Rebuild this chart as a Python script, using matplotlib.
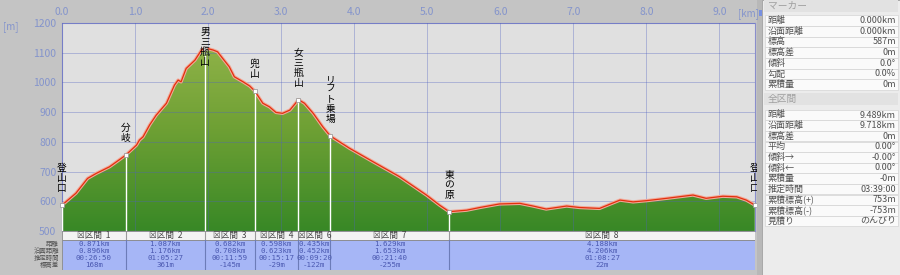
import numpy as np
import matplotlib
matplotlib.use("Agg")
import matplotlib.pyplot as plt
from matplotlib.colors import LinearSegmentedColormap
from matplotlib.patches import Polygon, Rectangle
from matplotlib.transforms import Bbox, TransformedBbox

plt.rcParams['font.family'] = ['Noto Sans CJK JP', 'DejaVu Sans']

# 断面データ (距離 km, 標高 m)
dist_km = [0.00, 0.19, 0.35, 0.47, 0.65, 0.871, 1.02, 1.06, 1.11, 1.20, 1.29, 1.43,
           1.54, 1.59, 1.63, 1.70, 1.82, 1.91, 1.958, 2.07, 2.13, 2.20, 2.29, 2.36,
           2.48, 2.57, 2.640, 2.75, 2.84, 2.93, 3.02, 3.12, 3.238, 3.32, 3.44, 3.57,
           3.673, 3.94, 4.26, 4.62, 4.99, 5.17, 5.302, 5.54, 5.72, 5.99, 6.27, 6.45,
           6.63, 6.91, 7.09, 7.36, 7.64, 7.82, 8.00, 8.28, 8.64, 8.82, 9.05, 9.24,
           9.37, 9.489]
elev_m = [587, 627, 677, 694, 716, 755, 789, 806, 817, 857, 890, 930,
          991, 1008, 1002, 1047, 1075, 1109, 1116, 1109, 1103, 1081, 1053, 1019,
          1002, 988, 971, 930, 918, 899, 896, 907, 942, 930, 896, 851,
          820, 778, 733, 683, 621, 587, 565, 570, 579, 591, 593, 584,
          574, 584, 579, 576, 604, 598, 602, 610, 621, 610, 617, 615,
          604, 587]

km_ticks = [0, 1, 2, 3, 4, 5, 6, 7, 8, 9]
elev_ticks = [500, 600, 700, 800, 900, 1000, 1100, 1200]

# 地点
marker_km = [0.0, 0.871, 1.958, 2.640, 3.238, 3.673, 5.302, 9.489]
marker_elev = [587, 755, 1116, 971, 942, 820, 565, 587]
marker_names = ['登山口', '分岐', '男三瓶山', '兜山', '女三瓶山', 'リフト乗場', '東の原', '登山口']

# 区間表
section_no = [1, 2, 3, 4, 6, 7, 8]
section_start = [0.0, 0.871, 1.958, 2.640, 3.238, 3.673, 5.302]
section_end = [0.871, 1.958, 2.640, 3.238, 3.673, 5.302, 9.489]
section_dist = ['0.871km', '1.087km', '0.682km', '0.598km', '0.435km', '1.629km', '4.188km']
section_surface = ['0.896km', '1.176km', '0.708km', '0.623km', '0.452km', '1.653km', '4.206km']
section_time = ['00:26:50', '01:05:27', '00:11:59', '00:15:17', '00:09:20', '00:21:40', '01:08:27']
section_climb = ['168m', '361m', '-145m', '-29m', '-122m', '-255m', '22m']
table_rows = ['距離', '沿面距離', '推定時間', '標高差']

# 右パネル
marker_labels = ['距離', '沿面距離', '標高', '標高差', '傾斜', '勾配', '累積量']
marker_values = ['0.000km', '0.000km', '587m', '0m', '0.0°', '0.0%', '0m']
total_labels = ['距離', '沿面距離', '標高差', '平均', '傾斜→', '傾斜←', '累積量',
                '推定時間', '累積標高(+)', '累積標高(-)', '見積り']
total_values = ['9.489km', '9.718km', '0m', '0.00°', '-0.00°', '0.00°', '-0m',
                '03:39:00', '753m', '-753m', 'のんびり']

W, H = 900, 275
total_km = dist_km[-1]


def frame(x0, y0, x1, y1):
    return [x0 / W, 1 - y1 / H, (x1 - x0) / W, (y1 - y0) / H]


fig = plt.figure(figsize=(9, 2.75), dpi=100, facecolor='#c4c4c4')

# ---- 断面図 ----
ax = fig.add_axes(frame(62, 23, 755, 231))
ax.set_facecolor('#e0e0e0')

poly = Polygon(np.column_stack([dist_km + [total_km, 0.0], elev_m + [500, 500]]),
               closed=True, facecolor='none', edgecolor='none')
ax.add_patch(poly)
grad = np.linspace(0, 1, 256).reshape(-1, 1)
cmap = LinearSegmentedColormap.from_list('hill', ['#388826', '#6ea034', '#96b64c'])
im = ax.imshow(grad, extent=[0, total_km, 500, 1180], origin='lower', aspect='auto',
               cmap=cmap, zorder=2)
im.set_clip_path(poly)

for k in km_ticks:
    ax.axvline(k, color='#5060c0', alpha=0.35, lw=0.7, zorder=3)
for e in elev_ticks:
    ax.axhline(e, color='#5060c0', alpha=0.35, lw=0.7, zorder=3)

ax.plot(dist_km, elev_m, color='#f2a898', lw=2.4, zorder=4, solid_joinstyle='round')
ax.plot(dist_km, elev_m, color='#e2300e', lw=0.9, zorder=5)

for k, e, name in zip(marker_km, marker_elev, marker_names):
    ax.plot([k, k], [500, e], color='white', lw=1.0, zorder=4.5)
    ax.plot(k, e, marker='s', ms=3, mfc='white', mec='#909090', mew=0.5,
            zorder=6, clip_on=False)
    bottom = min(e + 40, 1195 - 36 * len(name))
    ax.text(k, bottom, '\n'.join(name), ha='center', va='bottom', fontsize=7,
            linespacing=1.0, color='black', zorder=7, clip_on=False)

ax.set_xlim(0, total_km)
ax.set_ylim(500, 1200)
ax.set_xticks(km_ticks)
ax.set_xticklabels([f'{k:.1f}' for k in km_ticks])
ax.xaxis.tick_top()
ax.set_yticks(elev_ticks)
ax.set_yticklabels([str(e) for e in elev_ticks])
ax.tick_params(length=0, labelsize=7.5, labelcolor='#8494cc', pad=4)
for s in ax.spines.values():
    s.set_color('#8a8ecc')
    s.set_linewidth(0.8)

# ---- 区間表 ----
tax = fig.add_axes(frame(62, 231, 755, 270))
tax.set_xlim(0, total_km)
tax.set_ylim(39, 0)
tax.axis('off')
tax.add_patch(Rectangle((0, 0), total_km, 9, fc='#f3f3f3', ec='#8a8a8a', lw=0.6))
tax.add_patch(Rectangle((0, 9), total_km, 30, fc='#a6b6f6', ec='#8a8a8a', lw=0.6))

for no, s, e, d, sf, tm, cl in zip(section_no, section_start, section_end, section_dist,
                                   section_surface, section_time, section_climb):
    c = (s + e) / 2
    clip = TransformedBbox(Bbox([[s, 0], [e, 39]]), tax.transData)
    t = tax.text(c, 4.7, f'☒区間  {no}', ha='center', va='center', fontsize=6.2,
                 color='#454545')
    t.set_clip_box(clip)
    for j, val in enumerate([d, sf, tm, cl]):
        t = tax.text(c, 13.0 + 7.0 * j, val, ha='center', va='center', fontsize=5.4,
                     color='#4a58b0', family=['DejaVu Sans Mono'])
        t.set_clip_box(clip)
    if s > 0:
        tax.plot([s, s], [0, 9], color='#9a9a9a', lw=0.8)
        tax.plot([s, s], [9, 39], color='#6c7cb8', lw=0.8)

# ---- オーバーレイ (単位, 行ラベル, 右パネル) ----
ov = fig.add_axes([0, 0, 1, 1])
ov.set_xlim(0, W)
ov.set_ylim(H, 0)
ov.axis('off')

ov.text(3, 27, '[m]', va='center', ha='left', fontsize=7, color='#8494cc')
ov.text(738, 14, '[km]', va='center', ha='left', fontsize=7, color='#8494cc')

for j, lab in enumerate(table_rows):
    ov.text(59, 244 + 7.0 * j, lab, ha='right', va='center', fontsize=4.6,
            color='#505050')

ov.add_patch(Rectangle((757, 0), 5, H, fc='#b8b8b8', ec='none'))
ov.add_patch(Rectangle((762, 0), 138, H, fc='#ececec', ec='#a0a0a0', lw=0.6))
ov.add_patch(Rectangle((759, 10), 3, 6, fc='#7890e0', ec='none'))


def panel_header(y, text):
    ov.add_patch(Rectangle((764, y - 6), 134, 12, fc='#e2e2e2', ec='none'))
    ov.text(768, y, text, ha='left', va='center', fontsize=7, color='#a0a0a0')


def panel_rows(y0, step, labels, values):
    for i, (lab, val) in enumerate(zip(labels, values)):
        y = y0 + step * i
        ov.add_patch(Rectangle((765, y - step / 2), 133, step, fc='#fafafa',
                               ec='#d4d4d4', lw=0.5))
        ov.text(768, y, lab, ha='left', va='center', fontsize=6.5, color='#505050')
        ov.text(896, y, val, ha='right', va='center', fontsize=6.5, color='#505050')


panel_header(6, 'マーカー')
panel_rows(20.5, 10.7, marker_labels, marker_values)
panel_header(99, '全区間')
panel_rows(115, 10.6, total_labels, total_values)

fig.savefig('out.png', dpi=100, facecolor=fig.get_facecolor())
